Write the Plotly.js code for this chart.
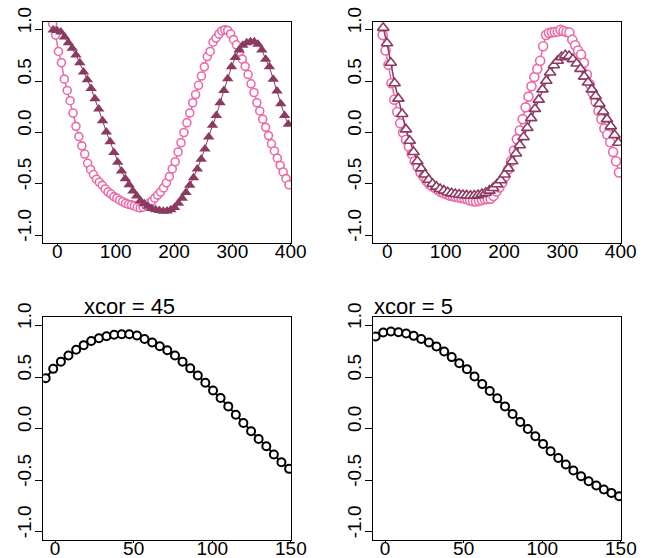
<!DOCTYPE html>
<html>
<head>
<meta charset="utf-8">
<script src="https://cdn.plot.ly/plotly-3.0.1.min.js"></script>
<style>html,body{margin:0;padding:0;background:#fff;}#chart{width:651px;height:558px;}</style>
</head>
<body>
<div id="chart"></div>
<script>
// ---------- data ----------
const xTopCircle = [-8,-3,2,7,12,17,22,27,32,37,42,47,52,57,62,67,72,77,82,87,92,97,102,107,112,117,122,127,132,137,142,147,152,157,162,167,172,177,182,187,192,197,202,207,212,217,222,227,232,237,242,247,252,257,262,267,272,277,282,287,292,297,302,307,312,317,322,327,332,337,342,347,352,357,362,367,372,377,382,387,392,397];
const xTopTri = [-7,-0.5,6,12.5,19,25.5,32,38.5,45,51.5,58,64.5,71,77.5,84,90.5,97,103.5,110,116.5,123,129.5,136,142.5,149,155.5,162,168.5,175,181.5,188,194.5,201,207.5,214,220.5,227,233.5,240,246.5,253,259.5,266,272.5,279,285.5,292,298.5,305,311.5,318,324.5,331,337.5,344,350.5,357,363.5,370,376.5,383,389.5,396];

// top-left: pink circles (reference series) and filled triangles (shifted series)
const tlCircle = [1.06,0.95,0.79,0.68,0.52,0.41,0.31,0.19,0.06,-0.04,-0.13,-0.21,-0.30,-0.36,-0.41,-0.455,-0.485,-0.515,-0.55,-0.58,-0.60,-0.625,-0.64,-0.66,-0.675,-0.69,-0.70,-0.705,-0.715,-0.728,-0.735,-0.728,-0.71,-0.69,-0.67,-0.64,-0.61,-0.58,-0.54,-0.49,-0.43,-0.355,-0.285,-0.19,-0.10,0.00,0.095,0.19,0.29,0.37,0.46,0.55,0.64,0.74,0.79,0.88,0.92,0.96,0.99,1.0,0.995,0.96,0.905,0.855,0.785,0.715,0.645,0.565,0.475,0.39,0.29,0.21,0.13,0.05,-0.03,-0.11,-0.18,-0.25,-0.32,-0.385,-0.45,-0.51];
const tlTri = [1.0,0.995,0.98,0.93,0.875,0.82,0.755,0.68,0.59,0.515,0.43,0.33,0.23,0.115,0.005,-0.09,-0.195,-0.29,-0.375,-0.45,-0.51,-0.57,-0.62,-0.665,-0.695,-0.72,-0.74,-0.752,-0.76,-0.768,-0.765,-0.752,-0.73,-0.69,-0.64,-0.585,-0.515,-0.44,-0.355,-0.26,-0.16,-0.045,0.07,0.165,0.29,0.41,0.525,0.64,0.73,0.805,0.85,0.875,0.885,0.884,0.86,0.805,0.715,0.64,0.52,0.405,0.28,0.165,0.08];

// top-right: after alignment
const trCircle = [0.95,0.80,0.66,0.48,0.32,0.20,0.09,0.00,-0.07,-0.14,-0.21,-0.28,-0.335,-0.39,-0.43,-0.47,-0.505,-0.525,-0.54,-0.56,-0.58,-0.592,-0.603,-0.615,-0.62,-0.627,-0.632,-0.638,-0.644,-0.65,-0.662,-0.67,-0.672,-0.666,-0.658,-0.65,-0.648,-0.645,-0.62,-0.575,-0.535,-0.49,-0.43,-0.36,-0.28,-0.175,-0.065,0.02,0.13,0.245,0.35,0.45,0.54,0.62,0.70,0.84,0.95,0.97,0.976,0.98,0.985,1.0,0.99,0.98,0.975,0.905,0.85,0.80,0.76,0.68,0.565,0.47,0.385,0.30,0.21,0.13,0.04,-0.02,-0.095,-0.19,-0.28,-0.39];
const trTri = [1.02,0.87,0.68,0.48,0.33,0.18,0.03,-0.08,-0.19,-0.28,-0.35,-0.41,-0.46,-0.50,-0.528,-0.551,-0.567,-0.583,-0.593,-0.60,-0.605,-0.609,-0.613,-0.616,-0.615,-0.61,-0.60,-0.587,-0.567,-0.541,-0.505,-0.465,-0.41,-0.35,-0.28,-0.205,-0.125,-0.045,0.045,0.14,0.23,0.32,0.42,0.505,0.585,0.655,0.70,0.735,0.752,0.745,0.715,0.673,0.62,0.545,0.487,0.42,0.355,0.28,0.205,0.13,0.06,-0.025,-0.10];

// bottom: cross-correlation by lag
const lag = [-6,-1.2,3.7,8.5,13.4,18.2,23,27.9,32.7,37.6,42.4,47.2,52.1,56.9,61.8,66.6,71.4,76.3,81.1,86,90.8,95.6,100.5,105.3,110.2,115,119.8,124.7,129.5,134.4,139.2,144,148.9];
const ccfBefore = [0.49,0.58,0.65,0.71,0.765,0.81,0.85,0.877,0.897,0.91,0.916,0.916,0.903,0.87,0.835,0.80,0.76,0.71,0.65,0.585,0.515,0.445,0.37,0.297,0.216,0.135,0.055,-0.026,-0.10,-0.17,-0.25,-0.326,-0.39];
const ccfAfter = [0.894,0.932,0.942,0.935,0.923,0.90,0.87,0.835,0.797,0.748,0.694,0.635,0.577,0.506,0.432,0.365,0.294,0.216,0.142,0.065,-0.003,-0.074,-0.148,-0.219,-0.284,-0.348,-0.406,-0.461,-0.51,-0.552,-0.59,-0.623,-0.655];

const titles = ["xcor = 45", "xcor = 5"];
const xTicksTop = [0,100,200,300,400];
const xTicksBottom = [0,50,100,150];
const yTickVals = [-1,-0.5,0,0.5,1];
const yTickText = ["-1.0","-0.5","0.0","0.5","1.0"];

// ---------- styling ----------
const PINK = '#EE6AA7';
const MAROON = '#8B3A62';
const FONT = 'Liberation Sans, Arial, Helvetica, sans-serif';

const traces = [
  {x: xTopCircle, y: tlCircle, xaxis:'x', yaxis:'y', mode:'lines+markers',
   line:{color:PINK, width:1.5}, marker:{symbol:'circle', size:8, color:'#fff', line:{width:1.6, color:PINK}}},
  {x: xTopTri, y: tlTri, xaxis:'x', yaxis:'y', mode:'lines+markers',
   line:{color:MAROON, width:1}, marker:{symbol:'triangle-up', size:10, color:MAROON}},
  {x: xTopCircle, y: trCircle, xaxis:'x2', yaxis:'y2', mode:'lines+markers',
   line:{color:PINK, width:1.5}, marker:{symbol:'circle', size:9, color:'#fff', line:{width:1.6, color:PINK}}},
  {x: xTopTri, y: trTri, xaxis:'x2', yaxis:'y2', mode:'lines+markers',
   line:{color:MAROON, width:1.5}, marker:{symbol:'triangle-up', size:10, color:'#fff', line:{width:1.6, color:MAROON}}},
  {x: lag, y: ccfBefore, xaxis:'x3', yaxis:'y3', mode:'lines+markers',
   line:{color:'#000', width:1.8}, marker:{symbol:'circle', size:8, color:'#fff', line:{width:2, color:'#000'}}},
  {x: lag, y: ccfAfter, xaxis:'x4', yaxis:'y4', mode:'lines+markers',
   line:{color:'#000', width:1.8}, marker:{symbol:'circle', size:8, color:'#fff', line:{width:2, color:'#000'}}}
];

function xax(domain, range, ticks, anchor){
  return {domain:domain, range:range, anchor:anchor, tickmode:'array', tickvals:ticks,
    ticktext:ticks.map(String), ticks:'outside', ticklen:2, tickcolor:'#000', ticklabelstandoff:-11,
    showline:true, mirror:true, linecolor:'#000', linewidth:1, showgrid:false, zeroline:false,
    tickfont:{family:FONT, size:19, color:'#000'}, fixedrange:true};
}
function yax(domain, anchor){
  return {domain:domain, range:[-1.08,1.08], anchor:anchor, tickmode:'array', tickvals:yTickVals,
    ticktext:yTickText, tickangle:-90, ticks:'outside', ticklen:7, tickcolor:'#000',
    ticklabelshift:-7, ticklabelstandoff:-3,
    showline:true, mirror:true, linecolor:'#000', linewidth:1, showgrid:false, zeroline:false,
    tickfont:{family:FONT, size:19, color:'#000'}, fixedrange:true};
}

const L = [43.3/651, 291/651], R = [373.3/651, 621/651];
const T = [(558-243.3)/558, (558-21.7)/558], B = [(558-540)/558, (558-317.3)/558];

const layout = {
  width:651, height:558, margin:{l:0,r:0,t:0,b:0}, showlegend:false,
  paper_bgcolor:'#fff', plot_bgcolor:'#fff', font:{family:FONT, color:'#000'},
  xaxis: xax(L, [-24,400.5], xTicksTop, 'y'),
  yaxis: yax(T, 'x'),
  xaxis2: xax(R, [-24,400.5], xTicksTop, 'y2'),
  yaxis2: yax(T, 'x2'),
  xaxis3: xax(L, [-7.5,150.1], xTicksBottom, 'y3'),
  yaxis3: yax(B, 'x3'),
  xaxis4: xax(R, [-7.5,150.1], xTicksBottom, 'y4'),
  yaxis4: yax(B, 'x4'),
  annotations: [
    {text: titles[0], xref:'paper', yref:'paper', x:82/651, y:(558-321)/558, xanchor:'left', yanchor:'bottom',
     showarrow:false, font:{family:FONT, size:22, color:'#000'}},
    {text: titles[1], xref:'paper', yref:'paper', x:372/651, y:(558-321)/558, xanchor:'left', yanchor:'bottom',
     showarrow:false, font:{family:FONT, size:22, color:'#000'}}
  ]
};

Plotly.newPlot('chart', traces, layout, {staticPlot:true, displayModeBar:false});
</script>
</body>
</html>
